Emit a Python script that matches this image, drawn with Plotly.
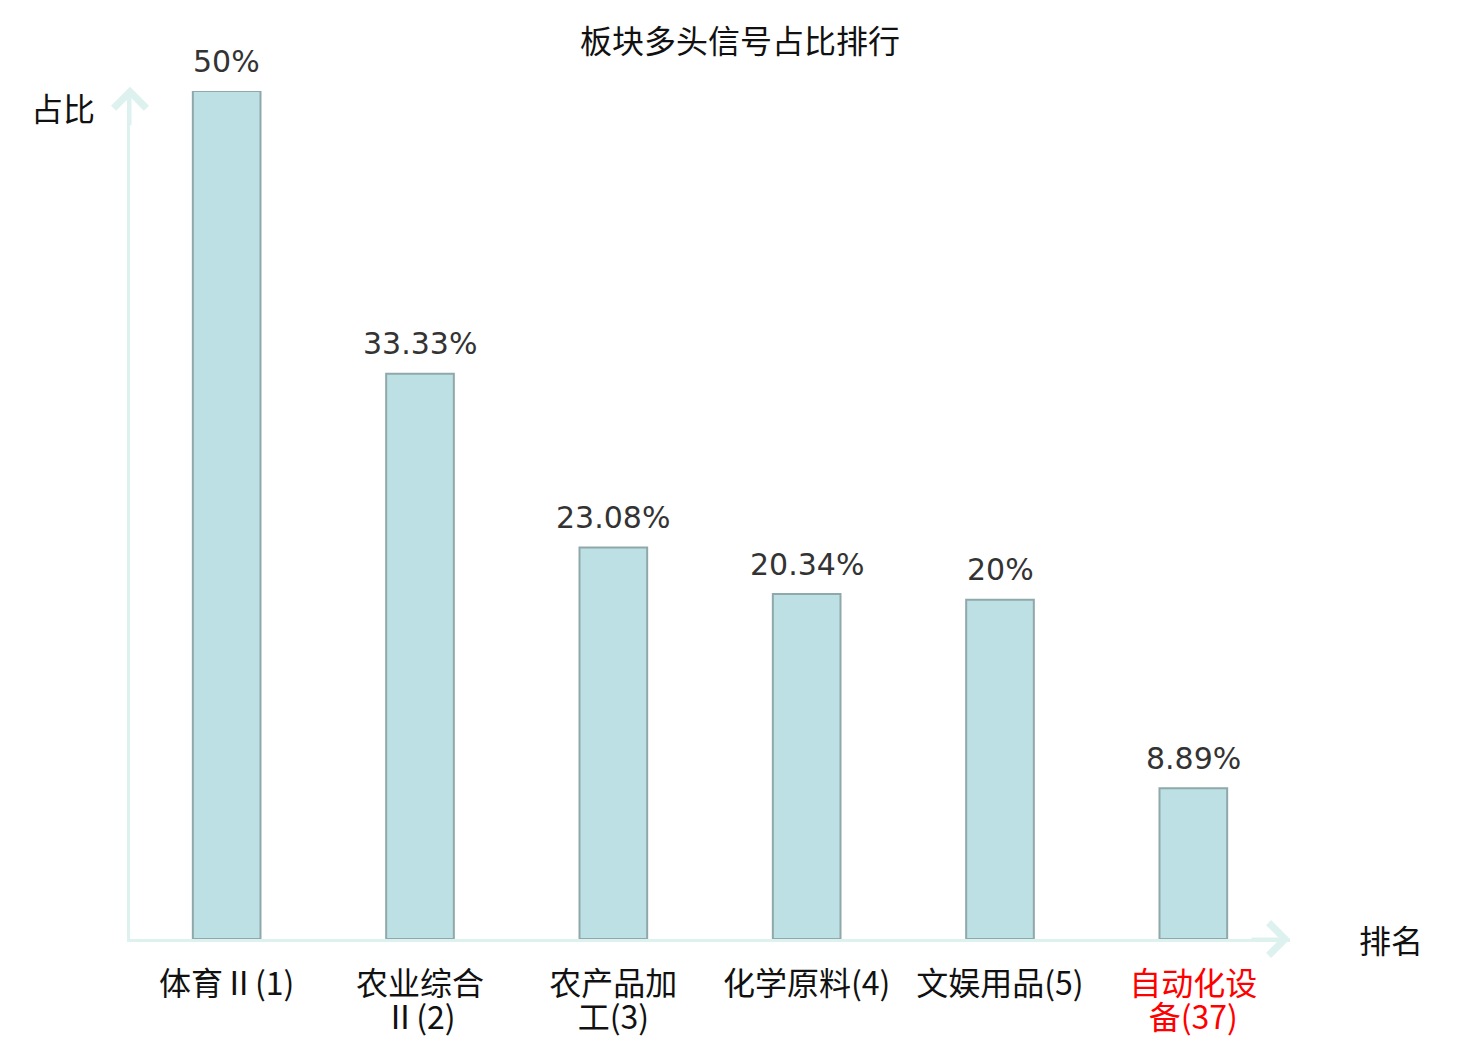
import plotly.graph_objects as go

categories = ["体育Ⅱ(1)", "农业综合Ⅱ(2)", "农产品加工(3)", "化学原料(4)", "文娱用品(5)", "自动化设备(37)"]
label_line1 = ["体育Ⅱ(1)", "农业综合", "农产品加", "化学原料(4)", "文娱用品(5)", "自动化设"]
label_line2 = ["", "Ⅱ(2)", "工(3)", "", "", "备(37)"]
highlight = [False, False, False, False, False, True]
values = [50, 33.33, 23.08, 20.34, 20, 8.89]
value_labels = ["50%", "33.33%", "23.08%", "20.34%", "20%", "8.89%"]

CJK = "Noto Sans CJK SC"
AXIS_COLOR = "#ddf2ee"
FS = 32


def paint(t, h):
    return f"<span style='color:#ff0000'>{t}</span>" if (h and t) else t


fig = go.Figure()
fig.add_trace(go.Bar(
    x=categories, y=values,
    marker=dict(color="#bce0e3", line=dict(color="#8fa8a9", width=2)),
    cliponaxis=False,
    width=0.35,
    hoverinfo="skip",
))
# invisible helper trace carrying the second line of the category labels
fig.add_trace(go.Scatter(x=categories, y=[None] * len(categories), xaxis="x2", yaxis="y",
                         mode="markers", hoverinfo="skip", showlegend=False))

annotations = []
for c, v, t in zip(categories, values, value_labels):
    annotations.append(dict(x=c, y=v, xref="x", yref="y", text=t, showarrow=False,
                            xanchor="center", yanchor="middle", yshift=30,
                            font=dict(family="DejaVu Sans", size=30, color="#333333")))

annotations += [
    dict(xref="paper", yref="paper", x=0, y=1.005, ax=0, ay=40, text="", showarrow=True,
         arrowhead=4, arrowsize=2.1, arrowwidth=3, arrowcolor=AXIS_COLOR, standoff=0),
    dict(xref="paper", yref="paper", x=1, y=0, ax=-40, ay=0, text="", showarrow=True,
         arrowhead=4, arrowsize=2.1, arrowwidth=3, arrowcolor=AXIS_COLOR, standoff=0),
    dict(xref="paper", yref="paper", x=0, y=1, xshift=-67, yshift=-16, text="占比", showarrow=False,
         xanchor="center", yanchor="middle", font=dict(family=CJK, size=FS, color="#111111")),
    dict(xref="paper", yref="paper", x=1, y=0, xshift=101, yshift=0, text="排名", showarrow=False,
         xanchor="center", yanchor="middle", font=dict(family=CJK, size=FS, color="#111111")),
]

fig.update_layout(
    width=1480, height=1040,
    margin=dict(l=122, r=198, t=83, b=109),
    paper_bgcolor="white", plot_bgcolor="white",
    showlegend=False,
    title=dict(text="板块多头信号占比排行", x=(740 - 8) / 1480, xanchor="center", y=1 - 34 / 1040,
               yanchor="middle", yref="container", xref="container",
               font=dict(family=CJK, size=FS, color="#111111")),
    xaxis=dict(
        type="category", tickvals=categories,
        ticktext=[paint(t, h) for t, h in zip(label_line1, highlight)],
        showline=True, linecolor=AXIS_COLOR, linewidth=3, automargin=False,
        showgrid=False, zeroline=False, ticks="", ticklabelstandoff=15,
        tickfont=dict(family=CJK, size=FS, color="#111111"),
        range=[-0.5, 5.5],
    ),
    xaxis2=dict(
        type="category", overlaying="x", side="bottom", tickvals=categories,
        ticktext=[paint(t, h) for t, h in zip(label_line2, highlight)],
        showline=False, automargin=False, showgrid=False, zeroline=False, ticks="",
        ticklabelstandoff=57,
        tickfont=dict(family=CJK, size=FS, color="#111111"),
        range=[-0.5, 5.5],
    ),
    yaxis=dict(
        range=[0, 50], showline=True, linecolor=AXIS_COLOR, linewidth=3, automargin=False,
        showgrid=False, zeroline=False, showticklabels=False, ticks="",
    ),
    annotations=annotations,
)

fig.write_html("out.html")
